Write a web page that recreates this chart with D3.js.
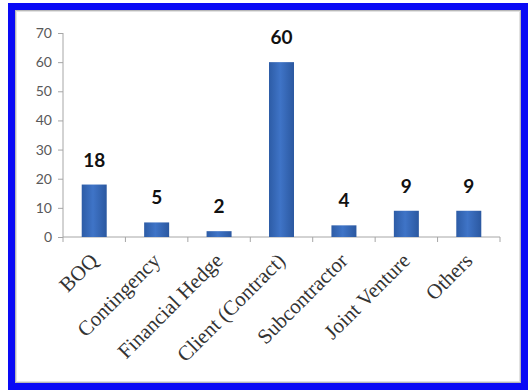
<!DOCTYPE html>
<html><head><meta charset="utf-8">
<script src="https://cdn.jsdelivr.net/npm/d3@7"></script>
<style>html,body{margin:0;padding:0;background:#fff;}svg{display:block;}</style>
</head><body>
<script>
const categories = ["BOQ","Contingency","Financial Hedge","Client (Contract)","Subcontractor","Joint Venture","Others"];
const values = [18,5,2,60,4,9,9];
const yTicks = [0,10,20,30,40,50,60,70];

const W = 528, H = 390;
const svg = d3.select("body").append("svg").attr("width", W).attr("height", H);

// frame
svg.append("rect").attr("x",8).attr("y",3).attr("width",W-8).attr("height",H-3).attr("fill","#0a0af5");
svg.append("rect").attr("x",15).attr("y",10).attr("width",506).attr("height",373).attr("fill","#b8b8b8");
svg.append("rect").attr("x",16).attr("y",11).attr("width",504).attr("height",371).attr("fill","#e2e2e2");
svg.append("rect").attr("x",17).attr("y",12).attr("width",502).attr("height",369).attr("fill","#ffffff");

const defs = svg.append("defs");
const g = defs.append("linearGradient").attr("id","barg").attr("x1","0").attr("x2","1").attr("y1","0").attr("y2","0");
g.append("stop").attr("offset","0%").attr("stop-color","#2d5ca6");
g.append("stop").attr("offset","45%").attr("stop-color","#3f74c7");
g.append("stop").attr("offset","100%").attr("stop-color","#2b58a0");

const xb = d3.scaleBand().domain(categories).range([63,500]);
const y = d3.scaleLinear().domain([0,70]).range([237,33]);

// y axis
const ya = svg.append("g").attr("transform","translate(63,0)")
  .call(d3.axisLeft(y).tickValues(yTicks).tickSize(5).tickPadding(6));
ya.select(".domain").attr("stroke","#a6a6a6").attr("d","M0,33V237");
ya.selectAll(".tick line").attr("stroke","#a6a6a6");
ya.selectAll(".tick text").attr("font-family","Lato, 'Open Sans', sans-serif").attr("font-size",14).attr("fill","#595959");

// x axis
const xa = svg.append("g").attr("transform","translate(0,237)");
xa.append("line").attr("x1",63).attr("x2",500).attr("y1",0).attr("y2",0).attr("stroke","#a6a6a6");
const bounds = categories.map(c => xb(c)).concat([500]);
xa.selectAll("line.tk").data(bounds).enter().append("line").attr("class","tk")
  .attr("x1",d=>d).attr("x2",d=>d).attr("y1",0).attr("y2",5).attr("stroke","#a6a6a6");

// bars
svg.selectAll("rect.bar").data(values).enter().append("rect").attr("class","bar")
  .attr("x",(d,i)=>xb(categories[i]) + xb.bandwidth()/2 - 12.5)
  .attr("width",25)
  .attr("y",d=>y(d)).attr("height",d=>237-y(d))
  .attr("fill","url(#barg)");

// value labels
svg.selectAll("text.val").data(values).enter().append("text").attr("class","val")
  .attr("x",(d,i)=>xb(categories[i]) + xb.bandwidth()/2)
  .attr("y",d=>y(d)-18)
  .attr("text-anchor","middle")
  .attr("font-family","Lato, 'Open Sans', sans-serif").attr("font-weight","bold").attr("font-size",19)
  .attr("fill","#111").text(d=>d);

// category labels
svg.selectAll("text.cat").data(categories).enter().append("text").attr("class","cat")
  .attr("transform",d=>`translate(${xb(d)+xb.bandwidth()/2+5},${237+25}) rotate(-45)`)
  .attr("text-anchor","end")
  .attr("font-family","'Liberation Serif', 'Times New Roman', serif").attr("font-size",21)
  .attr("fill","#333").text(d=>d);
</script>
</body></html>
